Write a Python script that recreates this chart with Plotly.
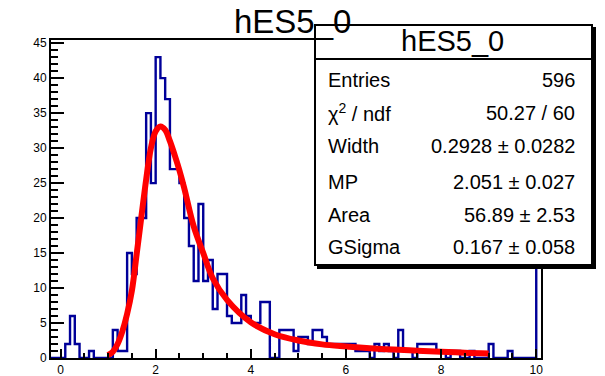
import numpy as np
import plotly.graph_objects as go

# ---------------- data ----------------
hist_name = "hES5_0"
bin_width = 0.1
bin_low_edges = np.round(np.arange(-0.2, 10.05, bin_width), 2)   # 103 bins, -0.2 .. 10.1
bin_counts = [
    0, 0, 0, 2, 6, 2, 0, 0, 1, 0,
    0, 0, 0, 4, 1, 1, 15, 12, 20, 20,
    35, 25, 43, 40, 37, 27, 27, 25, 20, 16,
    11, 22, 11, 14, 7, 12, 12, 6, 5, 5,
    9, 6, 5, 5, 8, 8, 0, 0, 4, 4,
    4, 1, 3, 3, 2, 4, 4, 3, 2, 2,
    2, 2, 2, 2, 1, 1, 1, 0, 2, 1,
    2, 1, 0, 4, 1, 1, 0, 2, 2, 2,
    2, 1, 1, 0, 1, 1, 0, 0, 1, 0,
    0, 0, 2, 0, 0, 0, 1, 0, 0, 0,
    0, 0, 20,
]

fit_x = [1.0, 1.1, 1.2, 1.3, 1.4, 1.5, 1.6, 1.7, 1.8, 1.9, 2.0, 2.1, 2.2, 2.3, 2.4,
         2.5, 2.6, 2.8, 3.0, 3.2, 3.5, 4.0, 4.5, 5.0, 5.5, 6.0, 6.5, 7.0, 7.5, 8.0,
         8.5, 9.0]
fit_y = [0.4, 0.9, 2.0, 3.8, 6.3, 9.6, 14.8, 20.2, 25.5, 30.0, 32.4, 33.1, 32.6, 31.0, 29.0,
         26.8, 24.3, 18.8, 15.0, 11.4, 8.3, 5.1, 3.4, 2.5, 1.95, 1.65, 1.4, 1.2, 1.05, 0.9,
         0.75, 0.65]

stat_labels = ["Entries", "\u03c7<sup>2</sup> / ndf", "Width", "MP", "Area", "GSigma"]
stat_values = ["596", "50.27 / 60", "0.2928 \u00b1 0.0282", "2.051 \u00b1 0.027",
               "56.89 \u00b1 2.53", "0.167 \u00b1 0.058"]

x_range = [-0.2, 10.1]
y_range = [0, 45.45]

# ---------------- figure ----------------
W, H = 605, 376
L, R, T, B = 51, 64, 40, 18
pw, ph = W - L - R, H - T - B

def px(xp):
    return (xp - L) / pw

def py(yp):
    return (H - B - yp) / ph

edges = list(bin_low_edges) + [round(bin_low_edges[-1] + bin_width, 2)]
step_y = list(bin_counts) + [bin_counts[-1]]

fig = go.Figure()
fig.add_trace(go.Scatter(x=edges, y=step_y, mode="lines", line_shape="hv",
                         line=dict(color="#000099", width=2.4), hoverinfo="skip"))
fig.add_trace(go.Scatter(x=fit_x, y=fit_y, mode="lines", line_shape="spline",
                         line=dict(color="#ff0000", width=6), hoverinfo="skip"))

font = "Liberation Sans, Arial, Helvetica, sans-serif"
fig.update_layout(
    width=W, height=H, margin=dict(l=L, r=R, t=T, b=B, autoexpand=False),
    paper_bgcolor="white", plot_bgcolor="white", showlegend=False,
    font=dict(family=font, color="black", size=12),
)
fig.update_xaxes(range=x_range, dtick=2, tick0=0, ticks="inside", ticklen=9, tickwidth=2,
                 tickcolor="black", showline=True, linecolor="black", linewidth=2, mirror=True,
                 showgrid=False, zeroline=False, tickfont=dict(size=12), automargin=False,
                 minor=dict(dtick=0.5, tick0=0, ticks="inside", ticklen=5, tickwidth=2,
                            tickcolor="black", showgrid=False))
fig.update_yaxes(range=y_range, dtick=5, tick0=0, ticks="inside", ticklen=13, tickwidth=2,
                 tickcolor="black", showline=True, linecolor="black", linewidth=2, mirror=True,
                 showgrid=False, zeroline=False, tickfont=dict(size=12), automargin=False,
                 minor=dict(dtick=1, tick0=0, ticks="inside", ticklen=7, tickwidth=2,
                            tickcolor="black", showgrid=False))

# stats box (shapes sit above the traces, below all annotations)
bx0, bx1, by0, by1, bsep = 315, 592, 25, 265, 59
box_line = dict(color="black", width=2)
shapes = [
    dict(type="rect", xref="paper", yref="paper", layer="above",
         x0=px(bx0 + 3), x1=px(bx1 + 3), y0=py(by1 + 3), y1=py(by0 + 3),
         fillcolor="black", line=box_line),
    dict(type="rect", xref="paper", yref="paper", layer="above",
         x0=px(bx0), x1=px(bx1), y0=py(by1), y1=py(by0),
         fillcolor="white", line=box_line),
    dict(type="line", xref="paper", yref="paper", layer="above",
         x0=px(bx0), x1=px(bx1), y0=py(bsep), y1=py(bsep), line=box_line),
]

ann = []
ann.append(dict(x=px(452), y=py(40.5), xref="paper", yref="paper", text=hist_name,
                showarrow=False, xanchor="center", yanchor="middle",
                font=dict(size=29, family=font, color="black")))
row_y = [80, 113, 146, 181.5, 215, 246.5]
for lab, val, ry in zip(stat_labels, stat_values, row_y):
    ann.append(dict(x=px(326), y=py(ry), xref="paper", yref="paper", text=lab,
                    showarrow=False, xanchor="left", yanchor="middle",
                    font=dict(size=20, family=font, color="black")))
    ann.append(dict(x=px(577), y=py(ry), xref="paper", yref="paper", text=val,
                    showarrow=False, xanchor="right", yanchor="middle",
                    font=dict(size=20, family=font, color="black")))
# pad title, over the stats box as in the reference
ann.append(dict(x=px(292), y=py(21.5), xref="paper", yref="paper", text=hist_name,
                showarrow=False, xanchor="center", yanchor="middle",
                font=dict(size=33, family=font, color="black")))
fig.update_layout(annotations=ann, shapes=shapes)

fig.write_html("out.html", config={"displayModeBar": False},
               post_script="document.body.style.margin='0';")
